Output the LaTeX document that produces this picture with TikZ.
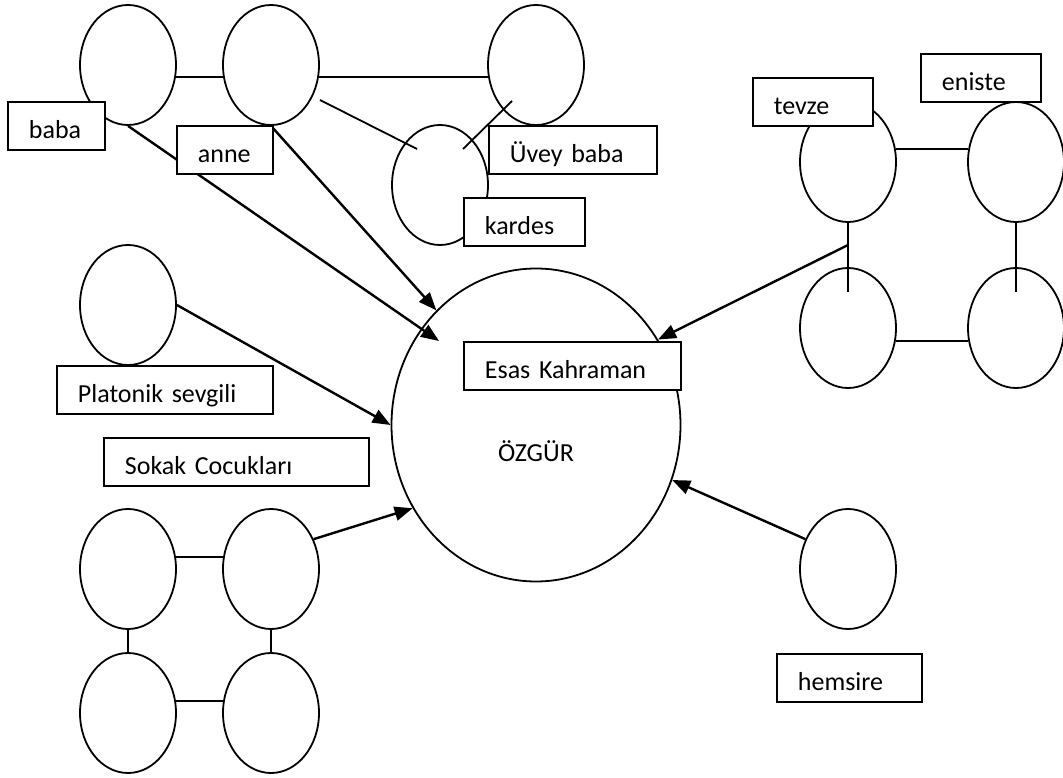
\documentclass[tikz,border=0pt]{standalone}
\usepackage{fontspec}
\setmainfont{Carlito}
\usetikzlibrary{shapes.geometric,arrows.meta,calc}

\begin{document}
\begin{tikzpicture}[x=1pt,y=-1pt,
  font=\fontsize{26}{31}\selectfont,
  kisi/.style={ellipse,draw,line width=1.8pt,minimum width=96pt,minimum height=120pt,inner sep=0pt},
  etiket/.style={draw,fill=white,line width=1.8pt,anchor=north west,inner xsep=21pt,inner ysep=0pt,
    text height=37pt,text depth=11pt,text width=#1,align=left},
  bag/.style={line width=1.8pt},
  ok/.style={line width=2.4pt,-{Triangle[length=18pt,width=14pt]}}]
  \useasboundingbox (0,0) rectangle (1063,778);

  \node[kisi] (baba) at (128,65) {};
  \node[kisi] (anne) at (271,65) {};
  \node[kisi] (uvey) at (536,65) {};
  \node[kisi] (kardes) at (440,185) {};
  \node[kisi] (platonik) at (128,305) {};
  \node[kisi,minimum width=289pt,minimum height=313pt] (ozgur) at (536,425) {};
  \node[anchor=base] (ad) at (536,461) {ÖZGÜR};

  \node[kisi] (tevze) at (848,162) {};
  \node[kisi] (eniste) at (1016,162) {};
  \node[kisi] (kuz1) at (848,328) {};
  \node[kisi] (kuz2) at (1016,328) {};

  \node[kisi] (sok1) at (128,569) {};
  \node[kisi] (sok2) at (271,569) {};
  \node[kisi] (sok3) at (128,713) {};
  \node[kisi] (sok4) at (271,713) {};
  \node[kisi] (hemsire) at (848,569) {};

  \coordinate (ak1) at (320,100);
  \coordinate (ak2) at (417,149);
  \coordinate (uk1) at (512,101);
  \coordinate (uk2) at (463,149);
  \coordinate (ic) at (439,341);
  \coordinate (tv) at ($(tevze.south)!0.5!(kuz1.north)$);

  \draw[bag] (baba.-14) -- (anne.194);
  \draw[bag] (anne.-14) -- (uvey.194);
  \draw[bag] (ak1) -- (ak2);
  \draw[bag] (uk1) -- (uk2);

  \draw[bag] (tevze.15) -- (eniste.165);
  \draw[bag] (kuz1.-15) -- (kuz2.195);
  \draw[bag] (tevze.south) -- ($(kuz1.north)+(0,25)$);
  \draw[bag] (eniste.south) -- ($(kuz2.north)+(0,25)$);

  \draw[bag] (sok1.14) -- (sok2.166);
  \draw[bag] (sok3.14) -- (sok4.166);
  \draw[bag] (sok1.south) -- (sok3.north);
  \draw[bag] (sok2.south) -- (sok4.north);

  \draw[ok] (baba.south) -- (ic);
  \draw[ok] (anne.south) -- (ozgur.131);
  \draw[ok] (platonik.east) -- (ozgur.west);
  \draw[ok] (sok2.35) -- (ozgur.214);
  \draw[ok] (tv) -- (ozgur.35);
  \draw[ok] (hemsire.145) -- (ozgur.-22);

  \node[etiket=55pt] (lbaba) at (7,101) {baba};
  \node[etiket=54pt] (lanne) at (176,125) {anne};
  \node[etiket=126pt] (luvey) at (488,125) {Üvey baba};
  \node[etiket=79pt] (lkardes) at (463,197) {kardes};
  \node[etiket=78pt] (ltevze) at (752,77) {tevze};
  \node[etiket=78pt] (leniste) at (920,53) {eniste};
  \node[etiket=174pt] (lplatonik) at (56,365) {Platonik sevgili};
  \node[etiket=223pt] (lsokak) at (103,437) {Sokak Cocukları};
  \node[etiket=175pt] (lesas) at (463,341) {Esas Kahraman};
  \node[etiket=103pt] (lhemsire) at (776,653) {hemsire};
\end{tikzpicture}
\end{document}
